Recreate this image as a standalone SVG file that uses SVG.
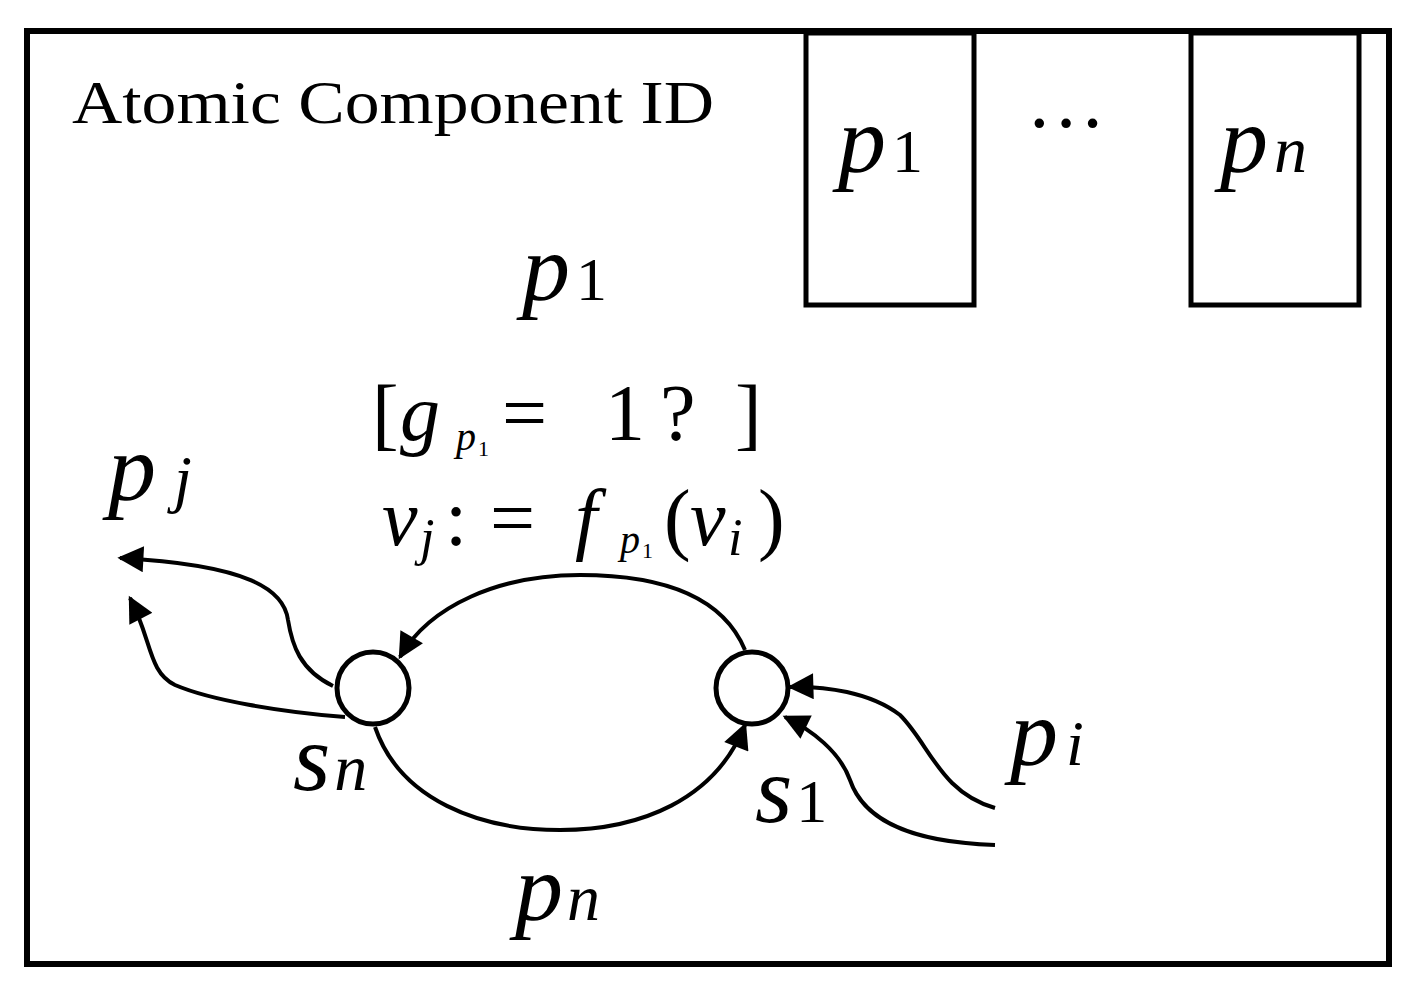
<svg xmlns="http://www.w3.org/2000/svg" width="1416" height="993" viewBox="0 0 1416 993">
<style>
.t{font-family:"Liberation Serif",serif;fill:#000}
.i{font-style:italic}
.c{fill:none;stroke:#000;stroke-width:4}
</style>
<defs><marker id="a" viewBox="0 0 10 10" refX="9" refY="5" markerWidth="30" markerHeight="26" markerUnits="userSpaceOnUse" orient="auto"><path d="M0,0 L10,5 L0,10 z"/></marker></defs>
<rect width="1416" height="993" fill="#fff"/>
<g id="component"><rect x="27" y="31" width="1362" height="933" fill="none" stroke="#000" stroke-width="6"/>
<text class="t" x="72" y="123" font-size="62" textLength="642" lengthAdjust="spacingAndGlyphs">Atomic Component ID</text></g>
<g id="port1"><rect x="806" y="33" width="168" height="272" fill="none" stroke="#000" stroke-width="5"/>
<text class="t" x="838" y="172" font-size="96"><tspan class="i">p</tspan><tspan font-size="62" dx="6">1</tspan></text></g>
<text class="t" x="1026" y="150" font-size="80">···</text>
<g id="portn"><rect x="1191" y="33" width="168" height="272" fill="none" stroke="#000" stroke-width="5"/>
<text class="t i" x="1220" y="172" font-size="96">p<tspan font-size="66" dx="6">n</tspan></text></g>
<text class="t" x="522" y="300" font-size="96"><tspan class="i">p</tspan><tspan font-size="62" dx="6">1</tspan></text>
<g class="t" font-size="80">
<text x="372" y="440">[</text>
<text class="i" x="400" y="440">g</text>
<text class="i" x="456" y="450" font-size="40">p</text>
<text x="478" y="456" font-size="22">1</text>
<text x="502" y="440">=</text>
<text x="605" y="440">1</text>
<text x="660" y="440">?</text>
<text x="735" y="440">]</text>
<text class="i" x="382" y="545">v</text>
<text class="i" x="420" y="555" font-size="52">j</text>
<text x="445" y="545">:</text>
<text x="490" y="545">=</text>
<text class="i" x="575" y="545">f</text>
<text class="i" x="620" y="553" font-size="40">p</text>
<text x="642" y="558" font-size="22">1</text>
<text x="664" y="545">(</text>
<text class="i" x="690" y="545">v</text>
<text class="i" x="728" y="555" font-size="52">i</text>
<text x="758" y="545">)</text>
</g>
<text class="t i" x="108" y="500" font-size="96">p<tspan font-size="64" dx="18">j</tspan></text>
<text class="t i" x="1010" y="765" font-size="96">p<tspan font-size="64" dx="8">i</tspan></text>
<text class="t i" x="515" y="920" font-size="96">p<tspan font-size="66" dx="4">n</tspan></text>
<g id="sn"><circle cx="373" cy="688" r="36" fill="#fff" stroke="#000" stroke-width="5"/>
<text class="t i" x="293" y="790" font-size="96">s<tspan font-size="66" dx="4">n</tspan></text></g>
<g id="s1"><circle cx="752" cy="688" r="36" fill="#fff" stroke="#000" stroke-width="5"/>
<text class="t" x="755" y="822" font-size="96"><tspan class="i">s</tspan><tspan font-size="62" dx="4">1</tspan></text></g>
<g id="connectors">
<path class="c" marker-end="url(#a)" d="M745,650 C720,590 650,575 580,575 C500,575 430,605 400,657"/>
<path class="c" marker-end="url(#a)" d="M375,727 C400,800 480,830 560,830 C640,830 715,800 745,725"/>
<path class="c" marker-end="url(#a)" d="M333,686 C300,670 292,645 288,620 C284,590 250,565 120,558"/>
<path class="c" marker-end="url(#a)" d="M345,717 C280,712 210,700 175,685 C148,672 152,640 130,598"/>
<path class="c" marker-end="url(#a)" d="M995,808 C940,792 930,745 900,715 C870,692 825,686 790,687"/>
<path class="c" marker-end="url(#a)" d="M995,845 C900,842 862,815 850,780 C840,752 812,730 785,717"/>
</g>
</svg>
